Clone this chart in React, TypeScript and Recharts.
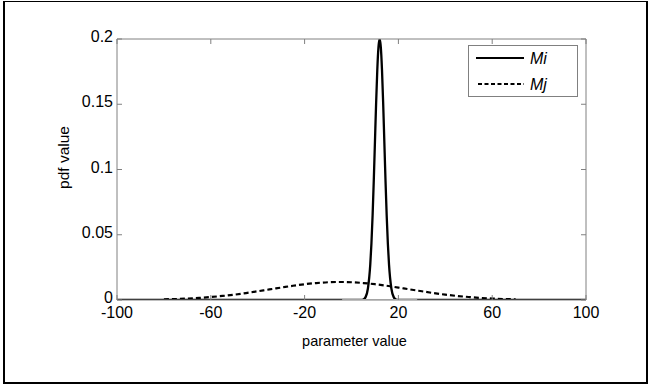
import { LineChart, Line, XAxis, YAxis, Legend } from 'recharts'

const X_TICKS = [-100, -60, -20, 20, 60, 100]
const Y_TICKS = [0, 0.05, 0.1, 0.15, 0.2]

// Mi: narrow peak near 12
const miX = [-100, 4, 5, 6, 7, 8, 8.5, 9, 9.5, 10, 10.5, 11, 11.5, 12, 12.5, 13, 13.5, 14, 14.5, 15, 15.5, 16, 17, 18, 19, 20, 100]
const miY = [0, 0.0001, 0.0004, 0.0022, 0.0088, 0.0271, 0.0433, 0.0649, 0.0916, 0.1213, 0.151, 0.1765, 0.1938, 0.2, 0.1938, 0.1765, 0.151, 0.1213, 0.0916, 0.0649, 0.0433, 0.0271, 0.0088, 0.0022, 0.0004, 0.0001, 0]

// Mj: wide flat bump centred near -5
const mjX = [-80, -75, -70, -65, -60, -55, -50, -45, -40, -35, -30, -25, -20, -15, -10, -5, 0, 5, 10, 15, 20, 25, 30, 35, 40, 45, 50, 55, 60, 65, 70]
const mjY = [0.0005, 0.00075, 0.0011, 0.0016, 0.0023, 0.0031, 0.0041, 0.0053, 0.0067, 0.0081, 0.0095, 0.0109, 0.0121, 0.013, 0.0136, 0.0138, 0.0136, 0.013, 0.0121, 0.0109, 0.0095, 0.0081, 0.0067, 0.0053, 0.0041, 0.0031, 0.0023, 0.0016, 0.0011, 0.00075, 0.0005]

// light grey stretch along the baseline
const baseX = [-4, 28]
const baseY = [0, 0]

const toPoints = (xs: number[], ys: number[]) => xs.map((x, i) => ({ x, y: ys[i] }))

const miData = toPoints(miX, miY)
const mjData = toPoints(mjX, mjY)
const baseData = toPoints(baseX, baseY)

const AXIS_GRAY = '#808080'
const FONT = '"Liberation Sans", Arial, sans-serif'

function BottomTick({ x, y, payload }: any) {
  return (
    <g>
      <line x1={x} y1={y} x2={x} y2={y - 5} stroke={AXIS_GRAY} />
      <text x={x} y={y + 18} textAnchor="middle" fontSize={16} fill="#000" fontFamily={FONT}>
        {payload.value}
      </text>
    </g>
  )
}

function TopTick({ x, y }: any) {
  return <line x1={x} y1={y} x2={x} y2={y + 5} stroke={AXIS_GRAY} />
}

function LeftTick({ x, y, payload }: any) {
  return (
    <g>
      <line x1={x} y1={y} x2={x + 5} y2={y} stroke={AXIS_GRAY} />
      <text x={x - 4} y={y + 3} textAnchor="end" fontSize={16} fill="#000" fontFamily={FONT}>
        {payload.value}
      </text>
    </g>
  )
}

function RightTick({ x, y }: any) {
  return <line x1={x} y1={y} x2={x - 5} y2={y} stroke={AXIS_GRAY} />
}

function LegendBox() {
  return (
    <svg width={110} height={52} style={{ display: 'block' }}>
      <rect x={0.5} y={0.5} width={109} height={51} fill="#fff" stroke={AXIS_GRAY} />
      <line x1={8} x2={56} y1={13} y2={13} stroke="#000" strokeWidth={2.2} />
      <text x={62} y={19} fontSize={16} fontStyle="italic" fontFamily={FONT}>Mi</text>
      <line x1={10} x2={56} y1={39} y2={39} stroke="#000" strokeWidth={1.8} strokeDasharray="4 2.5" />
      <text x={62} y={45} fontSize={16} fontStyle="italic" fontFamily={FONT}>Mj</text>
    </svg>
  )
}

export default function App() {
  return (
    <div style={{ position: 'absolute', left: 0, top: 0, width: 648, height: 390, background: '#fff' }}>
      {/* figure frame */}
      <div
        style={{
          position: 'absolute', left: 3, top: 1, width: 641, height: 380,
          borderLeft: '2px solid #000', borderTop: '1px solid #000',
          borderBottom: '2px solid #000', borderRight: '2px solid #000',
        }}
      />
      <LineChart width={648} height={390} margin={{ top: 38, right: 61, bottom: 30, left: 0 }}>
        <XAxis
          xAxisId="b"
          type="number"
          dataKey="x"
          domain={[-100, 100]}
          ticks={X_TICKS}
          allowDataOverflow
          height={60}
          tickSize={0}
          tickMargin={0}
          tickLine={false}
          axisLine={{ stroke: AXIS_GRAY }}
          tick={<BottomTick />}
          interval={0}
          label={({ viewBox }: any) => (
            <text
              x={viewBox.x + viewBox.width / 2 + 3}
              y={viewBox.y + 46}
              textAnchor="middle"
              fontSize={14.5}
              fontFamily={FONT}
            >
              parameter value
            </text>
          )}
        />
        <XAxis
          xAxisId="t"
          orientation="top"
          type="number"
          dataKey="x"
          domain={[-100, 100]}
          ticks={X_TICKS}
          allowDataOverflow
          height={1}
          tickSize={0}
          tickMargin={0}
          tickLine={false}
          axisLine={{ stroke: AXIS_GRAY }}
          tick={<TopTick />}
          interval={0}
        />
        <YAxis
          yAxisId="l"
          type="number"
          domain={[0, 0.2]}
          ticks={Y_TICKS}
          allowDataOverflow
          width={117}
          tickSize={0}
          tickMargin={0}
          tickLine={false}
          axisLine={{ stroke: AXIS_GRAY }}
          tick={<LeftTick />}
          interval={0}
          label={({ viewBox }: any) => {
            const cx = viewBox.x + 63
            const cy = viewBox.y + viewBox.height / 2 - 12
            return (
              <text
                x={cx}
                y={cy}
                transform={`rotate(-90 ${cx} ${cy})`}
                textAnchor="middle"
                dominantBaseline="central"
                fontSize={15.5}
                fontFamily={FONT}
              >
                pdf value
              </text>
            )
          }}
        />
        <YAxis
          yAxisId="r"
          orientation="right"
          type="number"
          domain={[0, 0.2]}
          ticks={Y_TICKS}
          allowDataOverflow
          width={1}
          tickSize={0}
          tickMargin={0}
          tickLine={false}
          axisLine={{ stroke: AXIS_GRAY }}
          tick={<RightTick />}
          interval={0}
        />

        <Legend
          layout="vertical"
          align="center"
          verticalAlign="middle"
          content={() => <LegendBox />}
          wrapperStyle={{ position: 'absolute', left: 468, top: 45, width: 110, height: 52 }}
        />

        {/* keeps the mirrored axes bound to data */}
        <Line
          xAxisId="t"
          yAxisId="r"
          data={miData}
          dataKey="y"
          stroke="none"
          dot={false}
          activeDot={false}
          legendType="none"
          isAnimationActive={false}
        />

        <Line
          xAxisId="b"
          yAxisId="l"
          data={miData}
          dataKey="y"
          name="Mi"
          type="monotone"
          stroke="#000"
          strokeWidth={2.3}
          dot={false}
          isAnimationActive={false}
        />
        <Line
          xAxisId="b"
          yAxisId="l"
          data={baseData}
          dataKey="y"
          name="base"
          stroke="#c8c8c8"
          strokeWidth={2}
          dot={false}
          legendType="none"
          isAnimationActive={false}
        />
        <Line
          xAxisId="b"
          yAxisId="l"
          data={mjData}
          dataKey="y"
          name="Mj"
          type="monotone"
          stroke="#000"
          strokeWidth={2.2}
          strokeDasharray="5 3"
          dot={false}
          isAnimationActive={false}
        />
      </LineChart>
    </div>
  )
}
